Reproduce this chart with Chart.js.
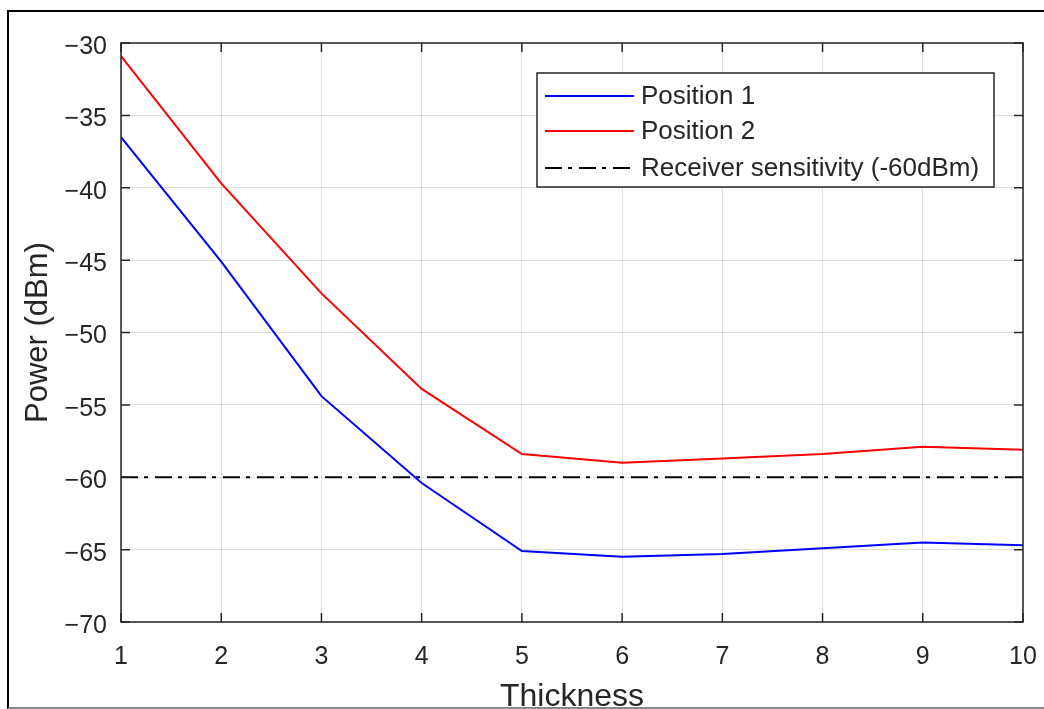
<!DOCTYPE html>
<html>
<head>
<meta charset="utf-8">
<script src="https://cdn.jsdelivr.net/npm/chart.js@4.4.0/dist/chart.umd.min.js"></script>
<style>
  html, body { margin: 0; padding: 0; background: #fff; overflow: hidden; }
  #wrap { position: relative; width: 1044px; height: 709px; overflow: hidden; }
  #frame {
    position: absolute; left: 7px; top: 10px; width: 1060px; height: 699px;
    border: 2px solid #000; border-bottom-color: #888; box-sizing: border-box;
  }
  #powerChart { position: absolute; left: 0; top: 0; }
</style>
</head>
<body>
<div id="wrap">
  <div id="frame"></div>
  <canvas id="powerChart" width="1044" height="740"></canvas>
</div>
<script>
// Received power vs thickness, two receiver positions
const thickness = [1, 2, 3, 4, 5, 6, 7, 8, 9, 10];
const position1 = [-36.5, -45.1, -54.4, -60.4, -65.1, -65.5, -65.3, -64.9, -64.5, -64.7];
const position2 = [-30.9, -39.7, -47.3, -53.9, -58.4, -59.0, -58.7, -58.4, -57.9, -58.1];
const sensitivity = [-60, -60, -60, -60, -60, -60, -60, -60, -60, -60];

const xTicks = [1, 2, 3, 4, 5, 6, 7, 8, 9, 10];
const yTicks = [-70, -65, -60, -55, -50, -45, -40, -35, -30];

const seriesLabels = ['Position 1', 'Position 2', 'Receiver sensitivity (-60dBm)'];

const FONT = '"Liberation Sans", Arial, Helvetica, sans-serif';
const AXIS_COLOR = '#262626';

function toPoints(values) {
    return thickness.map((t, i) => ({ x: t, y: values[i] }));
}

// Box around the plot area with inward tick marks on all four sides
const axesBox = {
    id: 'axesBox',
    afterDatasetsDraw(chart) {
        const { ctx, chartArea: a, scales } = chart;
        const len = 9;
        ctx.save();
        ctx.strokeStyle = AXIS_COLOR;
        ctx.lineWidth = 1.5;
        ctx.strokeRect(a.left, a.top, a.right - a.left, a.bottom - a.top);
        ctx.beginPath();
        xTicks.forEach(v => {
            const px = scales.x.getPixelForValue(v);
            ctx.moveTo(px, a.bottom); ctx.lineTo(px, a.bottom - len);
            ctx.moveTo(px, a.top); ctx.lineTo(px, a.top + len);
        });
        yTicks.forEach(v => {
            const py = scales.y.getPixelForValue(v);
            ctx.moveTo(a.left, py); ctx.lineTo(a.left + len, py);
            ctx.moveTo(a.right, py); ctx.lineTo(a.right - len, py);
        });
        ctx.stroke();
        ctx.restore();
    }
};

// Legend box in the upper right of the plot
const insideLegend = {
    id: 'insideLegend',
    afterDraw(chart) {
        const { ctx } = chart;
        const left = 537, top = 73, width = 457, height = 114;
        const rowY = [96, 131, 168];
        ctx.save();
        ctx.fillStyle = '#fff';
        ctx.fillRect(left, top, width, height);
        ctx.strokeStyle = AXIS_COLOR;
        ctx.lineWidth = 1.5;
        ctx.strokeRect(left, top, width, height);
        chart.data.datasets.forEach((ds, i) => {
            ctx.beginPath();
            ctx.strokeStyle = ds.borderColor;
            ctx.lineWidth = ds.borderWidth;
            ctx.setLineDash(ds.borderDash || []);
            ctx.moveTo(545, rowY[i]);
            ctx.lineTo(634, rowY[i]);
            ctx.stroke();
            ctx.setLineDash([]);
            ctx.fillStyle = AXIS_COLOR;
            ctx.font = '26px ' + FONT;
            ctx.textBaseline = 'middle';
            ctx.fillText(ds.label, 641, rowY[i] + 1);
        });
        ctx.restore();
    }
};

new Chart(document.getElementById('powerChart'), {
    type: 'line',
    data: {
        datasets: [
            {
                label: seriesLabels[0],
                data: toPoints(position1),
                borderColor: '#0000ff',
                borderWidth: 2
            },
            {
                label: seriesLabels[1],
                data: toPoints(position2),
                borderColor: '#ff0000',
                borderWidth: 2
            },
            {
                label: seriesLabels[2],
                data: toPoints(sensitivity),
                borderColor: '#000000',
                borderWidth: 2,
                borderDash: [17, 6, 4, 7]
            }
        ]
    },
    options: {
        responsive: false,
        animation: false,
        devicePixelRatio: 1,
        layout: { padding: { left: 10, top: 43, right: 21, bottom: 0 } },
        elements: {
            line: { tension: 0, fill: false },
            point: { radius: 0, hoverRadius: 0 }
        },
        plugins: {
            legend: { display: false },
            tooltip: { enabled: false }
        },
        scales: {
            x: {
                type: 'linear',
                min: 1,
                max: 10,
                afterFit: s => {
                    s.height = 118;
                    s.paddingLeft = 0;
                    s.paddingRight = 0;
                },
                afterBuildTicks: s => { s.ticks = xTicks.map(v => ({ value: v })); },
                grid: { color: 'rgba(0,0,0,0.12)', lineWidth: 1, drawTicks: false },
                border: { display: false },
                ticks: {
                    color: AXIS_COLOR,
                    font: { family: FONT, size: 25 },
                    padding: 20,
                    maxRotation: 0
                },
                title: {
                    display: true,
                    text: 'Thickness',
                    color: AXIS_COLOR,
                    font: { family: FONT, size: 32 },
                    padding: { top: 0, bottom: 24 }
                }
            },
            y: {
                type: 'linear',
                min: -70,
                max: -30,
                afterFit: s => {
                    s.width = 111;
                    s.paddingTop = 0;
                    s.paddingBottom = 0;
                },
                afterBuildTicks: s => { s.ticks = yTicks.map(v => ({ value: v })); },
                grid: { color: 'rgba(0,0,0,0.12)', lineWidth: 1, drawTicks: false },
                border: { display: false },
                ticks: {
                    color: AXIS_COLOR,
                    font: { family: FONT, size: 25 },
                    padding: 14,
                    labelOffset: 4,
                    callback: v => String(v).replace('-', '\u2212')
                },
                title: {
                    display: true,
                    text: 'Power (dBm)',
                    color: AXIS_COLOR,
                    font: { family: FONT, size: 31 },
                    padding: { top: 10, bottom: 0 }
                }
            }
        }
    },
    plugins: [axesBox, insideLegend]
});
</script>
</body>
</html>
